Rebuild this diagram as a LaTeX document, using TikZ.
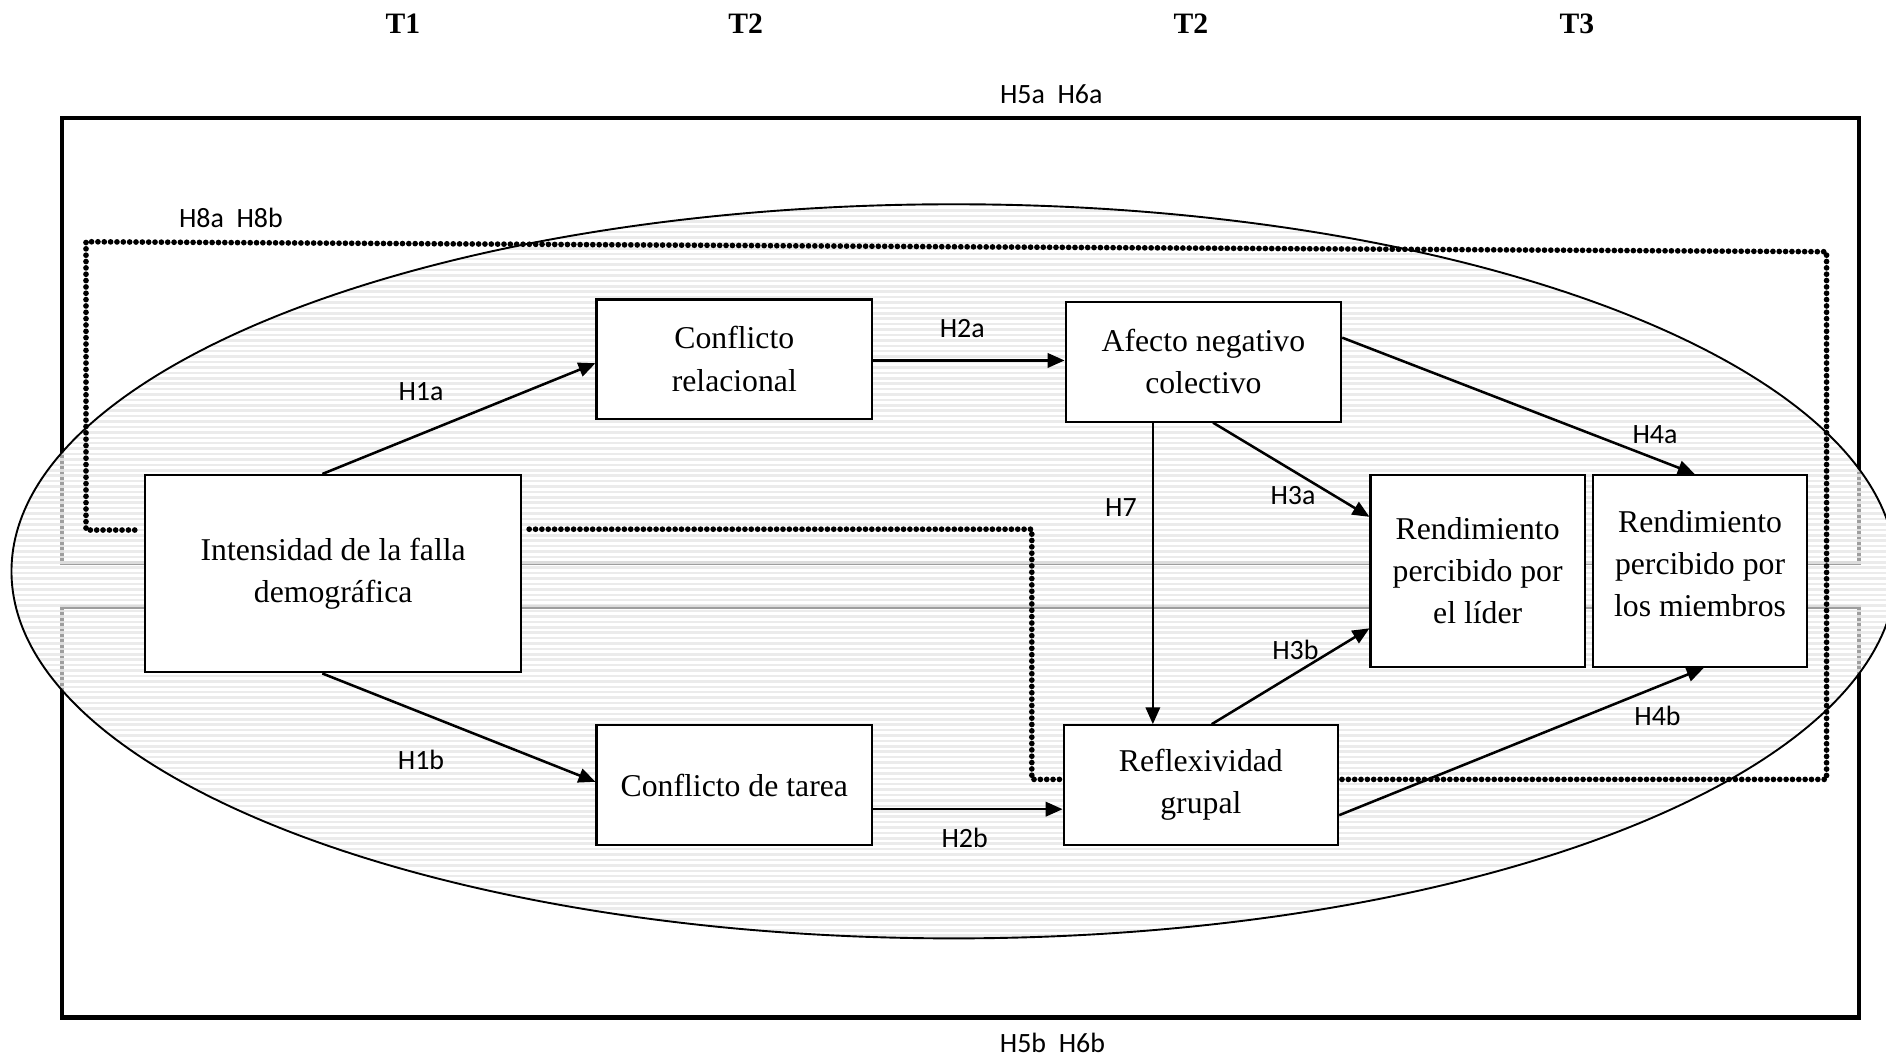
\documentclass[tikz,border=0pt]{standalone}
\usepackage{fontspec}
\setmainfont{Liberation Serif}
\newfontfamily\labfont{Carlito}
\usetikzlibrary{arrows.meta,calc}

\begin{document}
\begin{tikzpicture}[x=0.01cm,y=-0.01cm,
  frame/.style={line width=1pt},
  box/.style={draw, line width=0.5pt, fill=white, inner sep=0pt, align=center,
    font=\fontsize{7.5}{9.96}\selectfont},
  boxtext/.style={inner sep=0pt, align=center, font=\fontsize{7.5}{9.96}\selectfont},
  arr/.style={line width=0.6pt, -{Triangle[length=4pt,width=3.4pt]}},
  dots/.style={line width=1.35pt, dash pattern=on 0pt off 1.5pt, line cap=round},
  hyp/.style={font=\labfont\fontsize{6.6}{8}\selectfont, inner sep=0pt},
  wave/.style={font=\bfseries\fontsize{7}{8}\selectfont, inner sep=0pt},
  stripe/.style={line width=0.6pt, draw=black!9},
  oval/.style={x radius=7.83cm, y radius=3.05cm}
]
\useasboundingbox (0,0) rectangle (1568,880);

% measurement waves
\node[wave] (t1) at (335,20) {T1};
\node[wave] (t2a) at (620,20) {T2};
\node[wave] (t2b) at (990,20) {T2};
\node[wave] (t3) at (1311,20) {T3};

% two outer frames
\draw[frame] (51.3,98.2) rectangle (1545.5,468);
\draw[frame] (51.3,504.5) rectangle (1545.5,846);

% shaded group-level oval, the frames showing through it in grey
\fill[white] (793,475) ellipse [oval];
\begin{scope}
  \clip (793,475) ellipse [oval];
  \draw[frame, black!38] (51.3,98.2) rectangle (1545.5,468);
  \draw[frame, black!38] (51.3,504.5) rectangle (1545.5,846);
  \foreach \k in {0,...,137}
    \draw[stripe, opacity=0.85] (0,{170.5+4.5*\k}) -- (1600,{170.5+4.5*\k});
\end{scope}
\draw[line width=0.45pt] (793,475) ellipse [oval];

% constructs
\node[box, minimum width=3.12cm, minimum height=1.64cm] (int) at (277,477)
  {Intensidad de la falla\\demográfica};
\node[box, minimum width=2.29cm, minimum height=0.99cm] (rel) at (610.5,298.5)
  {Conflicto\\relacional};
\node[box, minimum width=2.29cm, minimum height=0.995cm] (afe) at (1000.5,300.75)
  {Afecto negativo\\colectivo};
\node[box, minimum width=2.29cm, minimum height=0.995cm] (tar) at (610.5,652.75)
  {Conflicto de tarea};
\node[box, minimum width=2.28cm, minimum height=0.995cm] (ref) at (998.4,652.75)
  {Reflexividad\\grupal};
\node[box, minimum width=1.78cm, minimum height=1.595cm] (lid) at (1228.5,474.75)
  {Rendimiento\\percibido por\\el líder};
\node[box, minimum width=1.78cm, minimum height=1.595cm] (mie) at (1413.4,474.75) {};
\node[boxtext] (mietxt) at ([yshift=0.06cm]mie.center)
  {Rendimiento\\percibido por\\los miembros};

% moderation paths (dotted)
\coordinate (tl) at (71.5,201);
\coordinate (tr) at (1518.6,209.3);
\draw[dots] ([xshift=-0.08cm,yshift=0.363cm]int.west) -| (tl) -- (tr)
  |- ([yshift=0.0475cm]ref.east);
\draw[dots] ([xshift=0.06cm,yshift=0.37cm]int.east)
  -| ([xshift=-0.256cm,yshift=0.0475cm]ref.west) -- ([yshift=0.0475cm]ref.west);

% direct paths
\draw[arr] ([xshift=-0.09cm]int.north) -- ([yshift=-0.035cm]rel.west);
\draw[arr] ([xshift=-0.09cm]int.south) -- ([yshift=0.0275cm]tar.west);
\draw[arr] ([yshift=-0.012cm]rel.east) coordinate (h2as) -- (h2as -| afe.west);
\draw[arr] ([yshift=-0.2cm]tar.east) coordinate (h2bs) -- (h2bs -| ref.west);
\draw[arr] ([xshift=-0.42cm]afe.south) coordinate (h7s) -- (h7s |- ref.north);
\draw[arr] ([xshift=0.08cm]afe.south) -- ([yshift=0.45cm]lid.west);
\draw[arr] ([xshift=0.09cm]ref.north) -- ([yshift=-0.476cm]lid.west);
\draw[arr] ([yshift=0.2cm]afe.east) -- ([xshift=-0.044cm]mie.north);
\draw[arr] ([yshift=-0.25cm]ref.east) -- ([xshift=0.03cm]mie.south);

% hypothesis labels
\node[hyp] (h1a) at (350,325.5) {H1a};
\node[hyp] (h1b) at (350,632) {H1b};
\node[hyp] (h2a) at (800,273) {H2a};
\node[hyp] (h2b) at (802,697) {H2b};
\node[hyp] (h7) at (932,422) {H7};
\node[hyp] (h3a) at (1075,412) {H3a};
\node[hyp] (h3b) at (1077,540) {H3b};
\node[hyp] (h4a) at (1376,361) {H4a};
\node[hyp] (h4b) at (1378,595) {H4b};
\node[hyp] (h8) at (192,181) {H8a\ \ H8b};
\node[hyp] (h56a) at (874,78) {H5a\ \ H6a};
\node[hyp] (h56b) at (875,867) {H5b\ \ H6b};
\end{tikzpicture}
\end{document}
